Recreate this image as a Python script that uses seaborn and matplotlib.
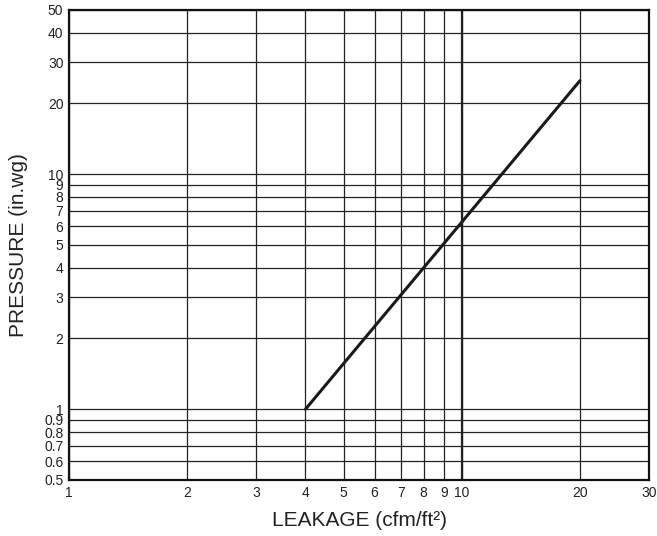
import numpy as np
import pandas as pd
import matplotlib
matplotlib.use("Agg")
import matplotlib.pyplot as plt
import seaborn as sns
from matplotlib.ticker import FixedLocator, FixedFormatter, NullLocator

# Dados da curva de vazamento
leakage = [4, 20]
pressure = [1, 25]

x_ticks = [1, 2, 3, 4, 5, 6, 7, 8, 9, 10, 20, 30]
x_labels = ["1", "2", "3", "4", "5", "6", "7", "8", "9", "10", "20", "30"]
y_ticks = [0.5, 0.6, 0.7, 0.8, 0.9, 1, 2, 3, 4, 5, 6, 7, 8, 9, 10, 20, 30, 40, 50]
y_labels = ["0.5", "0.6", "0.7", "0.8", "0.9", "1", "2", "3", "4", "5", "6", "7", "8", "9",
            "10", "20", "30", "40", "50"]

dados = pd.DataFrame({"leakage": leakage, "pressure": pressure})

sns.set_style("white")
plt.rcParams['font.family'] = ['Liberation Sans', 'DejaVu Sans']

fig = plt.figure(figsize=(6.57, 5.36), dpi=100)
ax = fig.add_axes([0.105, 0.1045, 0.883, 0.877])

sns.lineplot(data=dados, x="leakage", y="pressure", color="#1a1a1a", linewidth=2.2, ax=ax)

ax.set_xscale("log")
ax.set_yscale("log")
ax.set_xlim(1, 30)
ax.set_ylim(0.5, 50)

ax.xaxis.set_major_locator(FixedLocator(x_ticks))
ax.xaxis.set_major_formatter(FixedFormatter(x_labels))
ax.xaxis.set_minor_locator(NullLocator())
ax.yaxis.set_major_locator(FixedLocator(y_ticks))
ax.yaxis.set_major_formatter(FixedFormatter(y_labels))
ax.yaxis.set_minor_locator(NullLocator())

ax.grid(True, which="major", color="#222222", linewidth=0.9)
ax.axvline(10, color="#222222", linewidth=1.6)

for s in ax.spines.values():
    s.set_color("#111111")
    s.set_linewidth(1.6)

ax.tick_params(axis="both", which="major", direction="out", length=3, width=1,
               labelsize=10, pad=1, colors="#222222")

ax.set_xlabel("LEAKAGE (cfm/ft²)", fontsize=15, color="#222222", labelpad=8)
ax.set_ylabel("PRESSURE (in.wg)", fontsize=15, color="#222222", labelpad=12)

fig.savefig("out.png", dpi=100)
